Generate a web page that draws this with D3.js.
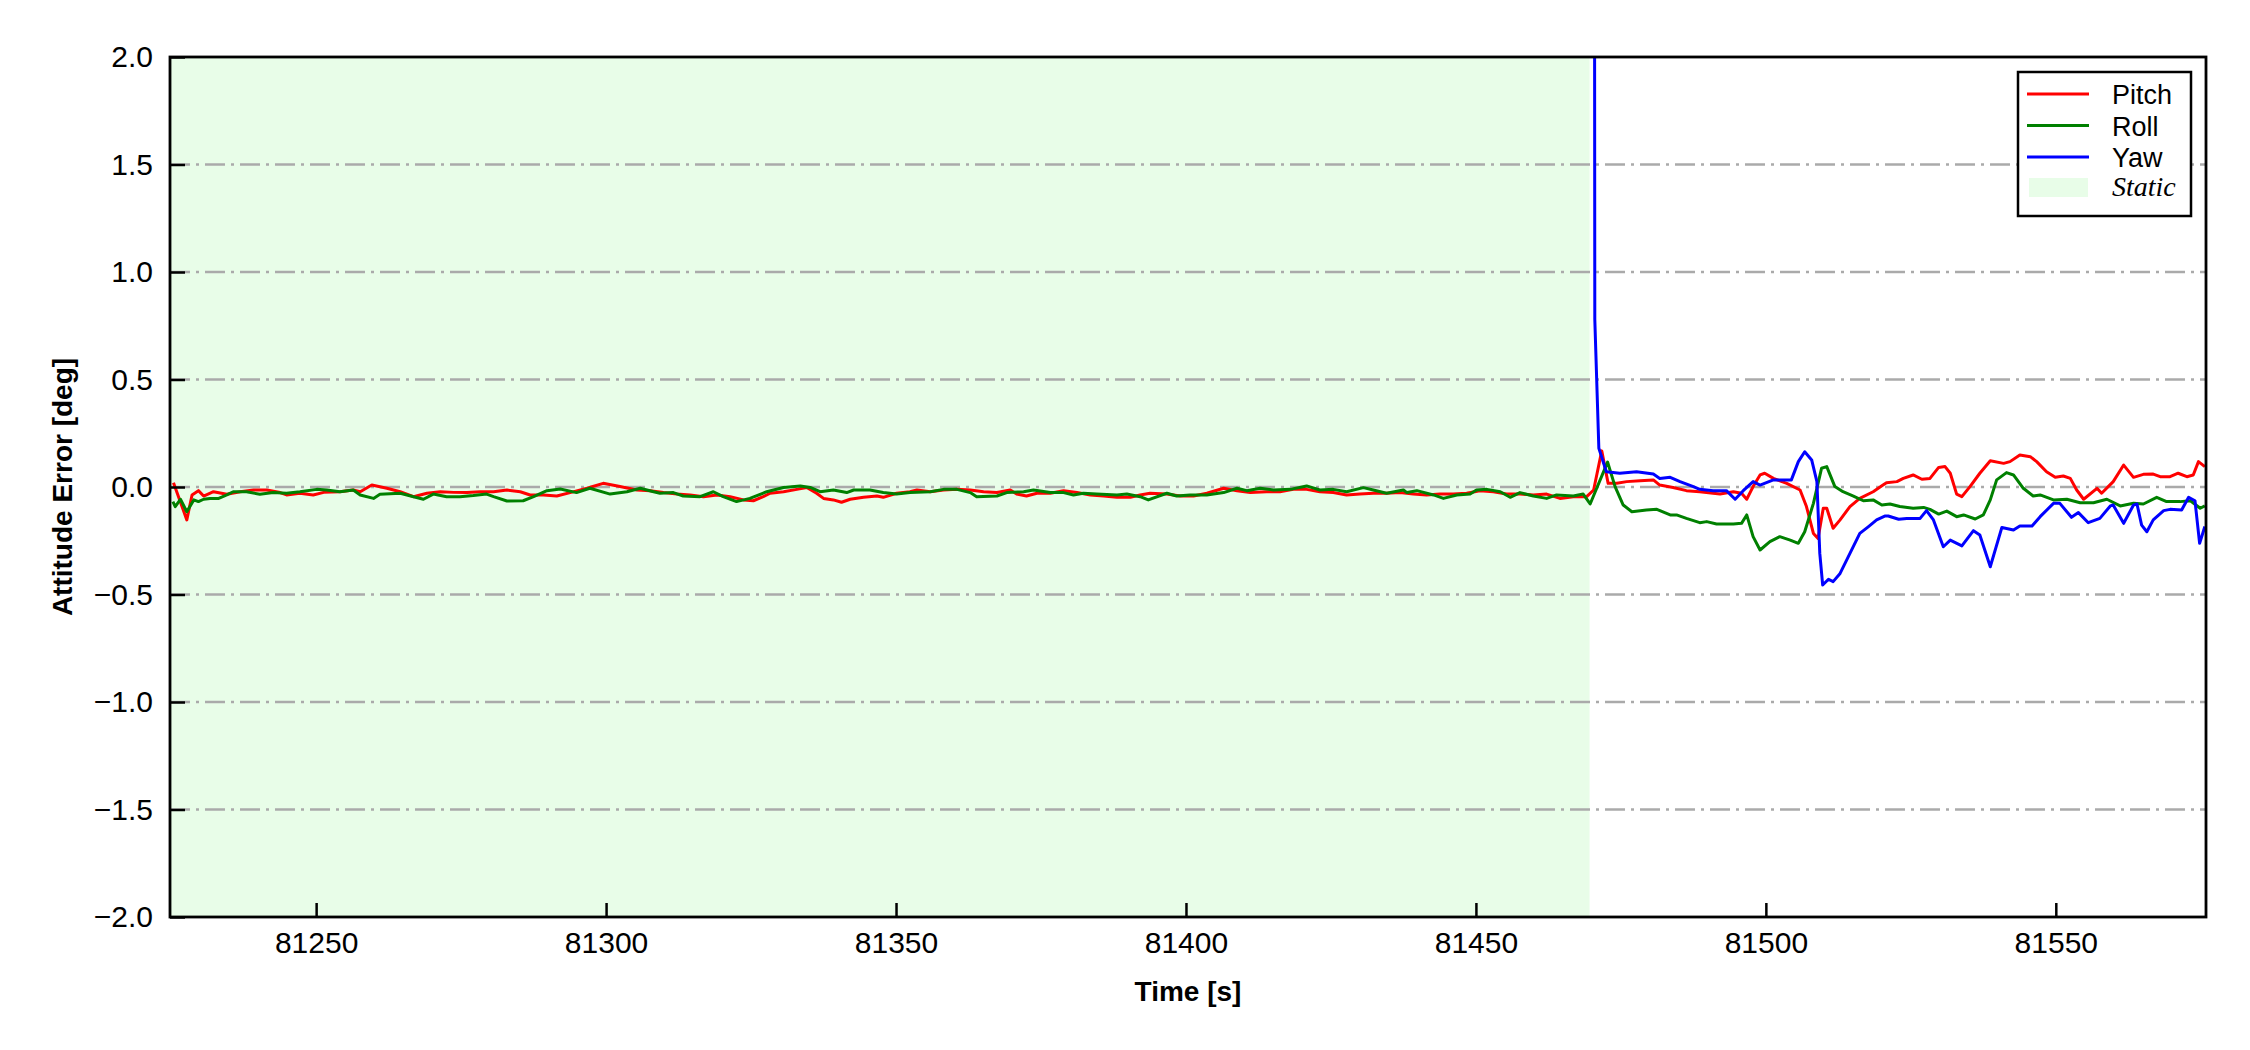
<!DOCTYPE html>
<html>
<head>
<meta charset="utf-8">
<script src="https://cdn.jsdelivr.net/npm/d3@7"></script>
<style>
  body { margin: 0; background: #fff; }
  svg { font-family: "Liberation Sans", Arial, sans-serif; }
</style>
</head>
<body>
<svg width="2250" height="1050"></svg>
<script>
// [time s, error deg]
var pitch = [
  [81225.4, 0.020], [81227.7, -0.153], [81228.6, -0.037], [81229.7, -0.017], [81230.6, -0.042],
  [81232.3, -0.022], [81234.6, -0.034], [81236.9, -0.022], [81239.2, -0.014], [81241.5, -0.014],
  [81243.8, -0.026], [81244.9, -0.037], [81247.2, -0.029], [81249.5, -0.037], [81251.3, -0.025],
  [81254.1, -0.022], [81256.4, -0.014], [81257.6, -0.022], [81259.6, 0.009], [81262.2, -0.006],
  [81264.5, -0.022], [81266.8, -0.045], [81269.1, -0.029], [81271.4, -0.022], [81273.7, -0.025],
  [81276.0, -0.026], [81278.3, -0.022], [81280.6, -0.022], [81282.9, -0.014], [81285.2, -0.022],
  [81286.9, -0.037], [81289.2, -0.037], [81291.5, -0.042], [81293.8, -0.026], [81296.7, -0.006],
  [81299.5, 0.017], [81302.4, 0.002], [81305.3, -0.014], [81307.6, -0.017], [81309.9, -0.026],
  [81312.2, -0.033], [81314.5, -0.037], [81316.8, -0.045], [81319.1, -0.037], [81321.4, -0.045],
  [81323.7, -0.060], [81325.4, -0.064], [81327.1, -0.045], [81328.3, -0.029], [81330.6, -0.022],
  [81332.9, -0.011], [81334.6, -0.002], [81336.3, -0.029], [81337.5, -0.053], [81339.2, -0.060],
  [81340.6, -0.071], [81342.1, -0.057], [81344.4, -0.048], [81346.7, -0.042], [81347.8, -0.048],
  [81350.1, -0.029], [81352.4, -0.022], [81353.6, -0.014], [81355.9, -0.022], [81358.2, -0.014],
  [81360.5, -0.011], [81362.8, -0.014], [81365.1, -0.022], [81367.4, -0.026], [81369.7, -0.014],
  [81370.8, -0.033], [81372.5, -0.042], [81374.3, -0.029], [81376.6, -0.029], [81378.9, -0.017],
  [81381.2, -0.026], [81383.5, -0.037], [81385.8, -0.042], [81388.1, -0.048], [81390.4, -0.048],
  [81392.1, -0.037], [81393.8, -0.029], [81396.7, -0.033], [81399.0, -0.042], [81401.3, -0.042],
  [81403.6, -0.029], [81406.5, -0.006], [81408.8, -0.017], [81411.1, -0.026], [81413.9, -0.022],
  [81416.2, -0.022], [81418.5, -0.011], [81420.8, -0.011], [81423.1, -0.022], [81425.4, -0.026],
  [81427.7, -0.037], [81430.0, -0.033], [81432.3, -0.029], [81434.6, -0.029], [81436.9, -0.026],
  [81439.2, -0.033], [81441.5, -0.037], [81443.8, -0.033], [81446.1, -0.033], [81448.4, -0.029],
  [81450.7, -0.017], [81453.0, -0.022], [81455.3, -0.033], [81457.6, -0.033], [81459.9, -0.037],
  [81462.2, -0.033], [81464.5, -0.053], [81466.8, -0.045], [81469.1, -0.045], [81470.3, -0.014],
  [81471.7, 0.168], [81472.8, 0.017], [81474.3, 0.017], [81476.0, 0.025], [81478.3, 0.029],
  [81480.6, 0.033], [81481.7, 0.009], [81484.0, -0.002], [81486.3, -0.017], [81488.6, -0.022],
  [81490.9, -0.029], [81492.1, -0.033], [81494.4, -0.022], [81495.8, -0.029], [81496.7, -0.057],
  [81497.8, 0.002], [81499.0, 0.056], [81499.8, 0.064], [81501.3, 0.040], [81503.6, 0.017],
  [81505.9, -0.014], [81507.0, -0.091], [81508.2, -0.216], [81509.0, -0.239], [81509.9, -0.099],
  [81510.5, -0.099], [81511.6, -0.192], [81512.8, -0.153], [81514.5, -0.091], [81516.2, -0.053],
  [81518.5, -0.022], [81520.2, 0.009], [81520.8, 0.020], [81522.6, 0.025], [81523.7, 0.040],
  [81525.4, 0.056], [81526.9, 0.036], [81528.3, 0.040], [81529.8, 0.091], [81530.9, 0.095],
  [81531.8, 0.064], [81532.9, -0.033], [81533.8, -0.045], [81535.2, 0.002], [81536.9, 0.064],
  [81538.7, 0.122], [81541.0, 0.110], [81542.1, 0.118], [81543.8, 0.149], [81545.6, 0.141],
  [81546.7, 0.118], [81548.4, 0.071], [81549.9, 0.045], [81551.3, 0.051], [81552.5, 0.040],
  [81553.6, -0.014], [81554.8, -0.057], [81557.1, -0.006], [81557.9, -0.029], [81559.9, 0.025],
  [81561.7, 0.102], [81563.4, 0.045], [81565.1, 0.059], [81566.8, 0.060], [81568.0, 0.048],
  [81569.7, 0.048], [81571.1, 0.064], [81572.6, 0.048], [81573.7, 0.056], [81574.6, 0.118],
  [81575.7, 0.095]
];

var roll = [
  [81225.3, -0.068], [81225.7, -0.091], [81226.6, -0.057], [81227.7, -0.115], [81228.9, -0.060],
  [81229.7, -0.068], [81230.6, -0.057], [81231.7, -0.053], [81233.2, -0.053], [81234.6, -0.037],
  [81235.7, -0.022], [81238.0, -0.022], [81240.3, -0.034], [81242.6, -0.026], [81244.9, -0.029],
  [81247.2, -0.022], [81250.1, -0.011], [81251.8, -0.014], [81254.1, -0.022], [81256.4, -0.014],
  [81257.6, -0.037], [81259.9, -0.053], [81261.0, -0.034], [81264.5, -0.029], [81266.8, -0.045],
  [81268.5, -0.057], [81270.2, -0.033], [81272.5, -0.045], [81274.8, -0.045], [81277.1, -0.040],
  [81279.4, -0.033], [81280.6, -0.045], [81282.9, -0.065], [81285.7, -0.064], [81287.5, -0.045],
  [81289.8, -0.017], [81292.1, -0.009], [81294.9, -0.026], [81297.2, -0.006], [81300.7, -0.033],
  [81303.6, -0.022], [81305.9, -0.006], [81308.2, -0.022], [81309.3, -0.029], [81311.6, -0.026],
  [81313.3, -0.042], [81316.2, -0.045], [81318.5, -0.022], [81320.2, -0.045], [81322.5, -0.068],
  [81324.8, -0.053], [81327.7, -0.022], [81330.6, -0.002], [81333.5, 0.005], [81335.2, -0.002],
  [81336.9, -0.022], [81339.2, -0.014], [81341.5, -0.026], [81342.7, -0.014], [81345.5, -0.014],
  [81347.8, -0.026], [81350.1, -0.033], [81352.4, -0.026], [81355.9, -0.022], [81358.2, -0.011],
  [81360.5, -0.011], [81362.8, -0.026], [81363.9, -0.045], [81367.4, -0.042], [81369.1, -0.026],
  [81372.0, -0.022], [81373.7, -0.014], [81376.6, -0.026], [81378.9, -0.026], [81380.6, -0.037],
  [81382.3, -0.029], [81384.6, -0.033], [81388.1, -0.037], [81389.8, -0.033], [81392.1, -0.045],
  [81393.5, -0.060], [81396.7, -0.029], [81398.4, -0.042], [81400.7, -0.037], [81403.6, -0.037],
  [81406.5, -0.026], [81408.8, -0.006], [81410.5, -0.017], [81412.8, -0.006], [81415.1, -0.014],
  [81418.0, -0.011], [81420.8, 0.005], [81423.1, -0.014], [81425.4, -0.011], [81427.7, -0.022],
  [81430.6, -0.003], [81432.3, -0.014], [81434.6, -0.029], [81437.5, -0.014], [81438.1, -0.026],
  [81439.8, -0.017], [81442.7, -0.037], [81444.4, -0.053], [81446.7, -0.037], [81449.0, -0.033],
  [81450.1, -0.014], [81451.9, -0.011], [81454.2, -0.022], [81455.9, -0.048], [81457.6, -0.026],
  [81459.9, -0.042], [81462.2, -0.053], [81463.9, -0.037], [81466.8, -0.042], [81468.5, -0.033],
  [81469.7, -0.079], [81472.7, 0.116], [81474.0, 0.002], [81475.4, -0.084], [81476.9, -0.115],
  [81479.4, -0.107], [81481.2, -0.104], [81483.5, -0.130], [81484.6, -0.130], [81486.3, -0.146],
  [81488.6, -0.166], [81489.8, -0.161], [81491.5, -0.172], [81494.4, -0.172], [81495.8, -0.169],
  [81496.7, -0.130], [81497.8, -0.231], [81499.0, -0.293], [81500.7, -0.254], [81502.4, -0.231],
  [81504.2, -0.247], [81505.6, -0.262], [81506.7, -0.208], [81508.2, -0.076], [81509.6, 0.087],
  [81510.5, 0.095], [81511.9, 0.002], [81513.3, -0.022], [81515.1, -0.042], [81516.8, -0.064],
  [81518.5, -0.060], [81520.0, -0.084], [81521.4, -0.079], [81523.1, -0.091], [81525.4, -0.099],
  [81527.2, -0.095], [81528.3, -0.104], [81529.8, -0.126], [81531.2, -0.112], [81532.9, -0.138],
  [81534.1, -0.130], [81536.1, -0.149], [81537.5, -0.130], [81538.7, -0.060], [81539.8, 0.033],
  [81541.5, 0.067], [81542.7, 0.056], [81544.4, -0.006], [81546.1, -0.042], [81547.3, -0.037],
  [81549.6, -0.060], [81551.9, -0.057], [81554.2, -0.073], [81556.5, -0.073], [81558.8, -0.057],
  [81561.1, -0.088], [81563.4, -0.076], [81565.1, -0.079], [81567.4, -0.048], [81569.1, -0.068],
  [81571.4, -0.068], [81573.2, -0.064], [81574.9, -0.099], [81575.7, -0.088]
];

var yaw = [
  [81470.2, 12.0], [81470.5, 0.78], [81471.2, 0.18], [81472.5, 0.071], [81474.8, 0.064],
  [81477.7, 0.071], [81480.6, 0.060], [81481.7, 0.040], [81483.5, 0.045], [81485.2, 0.025],
  [81487.5, 0.002], [81488.6, -0.011], [81490.9, -0.017], [81493.2, -0.017], [81494.7, -0.057],
  [81496.1, -0.017], [81497.8, 0.025], [81499.0, 0.009], [81501.3, 0.033], [81504.4, 0.033],
  [81505.6, 0.118], [81506.7, 0.164], [81507.9, 0.126], [81508.8, 0.025], [81509.3, -0.309],
  [81509.8, -0.456], [81510.8, -0.429], [81511.6, -0.440], [81512.8, -0.402], [81514.5, -0.309],
  [81516.2, -0.216], [81517.7, -0.184], [81519.1, -0.153], [81520.5, -0.135], [81521.1, -0.135],
  [81522.9, -0.150], [81524.3, -0.146], [81526.6, -0.146], [81527.7, -0.110], [81528.9, -0.153],
  [81530.6, -0.278], [81531.8, -0.247], [81533.8, -0.274], [81535.8, -0.203], [81536.9, -0.223],
  [81538.7, -0.371], [81540.7, -0.188], [81542.7, -0.200], [81543.8, -0.181], [81545.9, -0.181],
  [81547.3, -0.138], [81549.6, -0.076], [81550.7, -0.076], [81552.7, -0.141], [81553.9, -0.119],
  [81555.6, -0.166], [81557.6, -0.146], [81559.4, -0.088], [81559.9, -0.084], [81561.7, -0.169],
  [81563.4, -0.084], [81564.0, -0.079], [81564.8, -0.177], [81565.7, -0.208], [81566.8, -0.153],
  [81568.6, -0.110], [81569.7, -0.104], [81571.7, -0.107], [81572.9, -0.048], [81574.0, -0.064],
  [81574.8, -0.262], [81575.7, -0.184]
];

var staticSpan = [81224.8, 81469.6];
var xTicks = [81250, 81300, 81350, 81400, 81450, 81500, 81550];
var yTicks = [-2.0, -1.5, -1.0, -0.5, 0.0, 0.5, 1.0, 1.5, 2.0];

var series = [
  {name: "Pitch", color: "#ff0000", data: pitch},
  {name: "Roll", color: "#008000", data: roll},
  {name: "Yaw", color: "#0000ff", data: yaw}
];

var svg = d3.select("svg"),
    margin = {top: 57, right: 44, bottom: 133, left: 170},
    width = +svg.attr("width") - margin.left - margin.right,
    height = +svg.attr("height") - margin.top - margin.bottom;

var x = d3.scaleLinear().domain([81224.8, 81575.9]).range([0, width]),
    y = d3.scaleLinear().domain([-2, 2]).range([height, 0]);

var staticFill = "#e8fde8";

var g = svg.append("g")
    .attr("transform", "translate(" + margin.left + "," + margin.top + ")");

g.append("defs").append("clipPath")
    .attr("id", "plot-clip")
  .append("rect")
    .attr("width", width)
    .attr("height", height);

g.append("rect")
    .attr("x", x(staticSpan[0]))
    .attr("width", x(staticSpan[1]) - x(staticSpan[0]))
    .attr("y", 0)
    .attr("height", height)
    .attr("fill", staticFill);

// horizontal dash-dot grid
g.append("g")
    .attr("class", "grid")
    .selectAll("line")
    .data(yTicks.slice(1, -1))
    .enter()
      .append("line")
      .attr("x1", 0)
      .attr("x2", width)
      .attr("y1", function(d) { return y(d); })
      .attr("y2", function(d) { return y(d); })
      .attr("stroke", "#aaaaaa")
      .attr("stroke-width", 2.6)
      .attr("stroke-dasharray", "20,6,3,6");

var line = d3.line()
    .x(function(d) { return x(d[0]); })
    .y(function(d) { return y(d[1]); });

g.append("g")
    .attr("clip-path", "url(#plot-clip)")
    .selectAll("path")
    .data(series)
    .enter()
      .append("path")
      .attr("d", function(d) { return line(d.data); })
      .attr("fill", "none")
      .attr("stroke", function(d) { return d.color; })
      .attr("stroke-width", 3)
      .attr("stroke-linejoin", "round");

// axes, ticks pointing inward
var xAxis = g.append("g")
    .attr("transform", "translate(0," + height + ")")
    .call(d3.axisBottom(x).tickValues(xTicks).tickSizeInner(-14).tickSizeOuter(0).tickPadding(15).tickFormat(d3.format("d")));

var yAxis = g.append("g")
    .call(d3.axisLeft(y).tickValues(yTicks).tickSizeInner(-15).tickSizeOuter(0).tickPadding(17).tickFormat(d3.format(".1f")));

[xAxis, yAxis].forEach(function(ax) {
    ax.select(".domain").remove();
    ax.selectAll(".tick line").attr("stroke", "#000").attr("stroke-width", 2.5);
    ax.selectAll(".tick text")
        .style("font-family", "'Liberation Sans', Arial, sans-serif")
        .style("font-size", "30px")
        .attr("fill", "#000");
});

g.append("rect")
    .attr("width", width)
    .attr("height", height)
    .attr("fill", "none")
    .attr("stroke", "#000")
    .attr("stroke-width", 2.8);

svg.append("text")
    .attr("x", margin.left + width / 2)
    .attr("y", 1001)
    .attr("text-anchor", "middle")
    .style("font-size", "28px")
    .style("font-weight", "bold")
    .text("Time [s]");

svg.append("text")
    .attr("transform", "translate(72," + (margin.top + height / 2) + ") rotate(-90)")
    .attr("text-anchor", "middle")
    .style("font-size", "28px")
    .style("font-weight", "bold")
    .text("Attitude Error [deg]");

// legend
var legend = svg.append("g").attr("transform", "translate(2018,72)");

legend.append("rect")
    .attr("width", 173)
    .attr("height", 144)
    .attr("fill", "#fff")
    .attr("stroke", "#000")
    .attr("stroke-width", 2.5);

var item = legend.selectAll(".item")
    .data(series)
    .enter()
      .append("g")
      .attr("class", "item")
      .attr("transform", function(d, i) { return "translate(0," + (22 + i * 31.5) + ")"; });

item.append("line")
    .attr("x1", 9)
    .attr("x2", 71)
    .attr("stroke", function(d) { return d.color; })
    .attr("stroke-width", 3);

item.append("text")
    .attr("x", 94)
    .attr("y", 10)
    .style("font-size", "27px")
    .text(function(d) { return d.name; });

legend.append("rect")
    .attr("x", 11)
    .attr("y", 106)
    .attr("width", 59)
    .attr("height", 19)
    .attr("fill", staticFill);

legend.append("text")
    .attr("x", 94)
    .attr("y", 124)
    .style("font-family", "'Liberation Serif', 'Times New Roman', serif")
    .style("font-style", "italic")
    .style("font-size", "28px")
    .text("Static");
</script>
</body>
</html>
